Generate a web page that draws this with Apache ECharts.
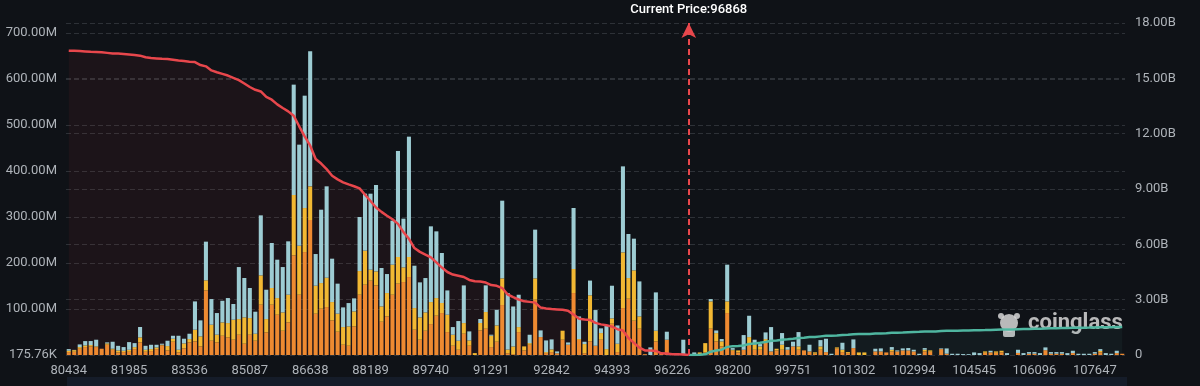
<!DOCTYPE html>
<html><head><meta charset="utf-8">
<script src="https://cdn.jsdelivr.net/npm/echarts@6/dist/echarts.min.js"></script>
<style>html,body{margin:0;padding:0;background:#0f1217;}#c{width:1200px;height:386px;}</style>
</head><body><div id="c"></div>
<script>
// price levels (x categories)
const priceLevels = [
80434,80575,80716,80857,80998,81139,81280,81421,81562,81703,
81844,81985,82126,82267,82408,82549,82690,82831,82972,83113,
83254,83395,83536,83677,83818,83959,84100,84241,84382,84523,
84664,84805,84946,85087,85228,85369,85510,85651,85792,85933,
86074,86215,86356,86497,86638,86779,86920,87061,87202,87343,
87484,87625,87766,87907,88048,88189,88330,88471,88612,88753,
88894,89035,89176,89317,89458,89599,89740,89881,90022,90163,
90304,90445,90586,90727,90868,91009,91150,91291,91432,91573,
91714,91855,91996,92137,92278,92419,92560,92701,92842,92983,
93124,93265,93406,93547,93688,93829,93970,94111,94252,94393,
94560,94726,94893,95060,95226,95393,95560,95726,95893,96060,
96226,96440,96654,96868,97035,97201,97368,97534,97701,97867,
98034,98200,98341,98482,98623,98764,98905,99046,99187,99328,
99469,99610,99751,99892,100033,100174,100315,100456,100597,100738,
100879,101020,101161,101302,101456,101610,101763,101917,102071,102225,
102379,102532,102686,102840,102994,103135,103276,103417,103558,103699,
103840,103981,104122,104263,104404,104545,104686,104827,104968,105109,
105250,105391,105532,105673,105814,105955,106096,106237,106378,106519,
106660,106801,106942,107083,107224,107365,107506,107647,107788,107929,
108070,108211,108352];
const xTickLabels = ['80434','81985','83536','85087','86638','88189','89740','91291','92842','94393','96226','98200','99751','101302','102994','104545','106096','107647'];
const currentPrice = 96868;

// liquidation leverage bars, in millions USD
const levelOrange = [
6.5,7.2,13.8,17.4,18.9,17.4,13.8,22.5,11.6,5.8,
6.5,7.2,13,27.6,7.2,8.7,13,21,10.2,29,
5.8,14.5,27.6,29.7,18.9,140.7,31.2,27.6,42,38.4,
33.4,44.2,24.7,44.2,31.2,109.5,49.3,109.5,87.7,52.9,
71.1,216.8,131.2,224,293.6,89.9,100.8,104.4,75.4,50.8,
22.5,20.3,62.4,131.2,153,161.7,151.5,72.5,84.1,131.2,
155.2,158.8,169.7,55.1,33.4,52.9,67.4,85.6,91.4,50,
20.3,11.6,46.4,20.3,0,53.7,57.3,17.4,29,108.8,
4,2,50,10.2,22.5,120.4,39.2,4.3,6.5,4,
33.4,22.5,134.9,33,4,30,20.3,33.4,0,68.2,
6.5,102.2,122.5,74.7,57.3,2,0,29.7,3,33.4,
0,0,0,0,0,0,6,57.3,29.7,18.9,
91.4,9.4,5.8,11.6,26.1,11.6,11.6,29.7,8,10,
11.6,11.6,18.9,11.6,10.2,8,3,11.6,6.5,0,
14,6.5,4.3,15.2,0,0,0,8,8,5.8,
8,8,10.2,10.2,8,0,8,7.2,0,13,
3,0,0,0,0,0,0,5,6,5,
6,0,0,4.6,0,3,3,0,10.7,3,
3,3,0,4.4,0,0,0,3,6,0,
0,4.4,2.9];
const levelYellow = [
2.9,3.6,3.6,3.6,2.9,1.5,0,2.9,2.2,4.3,
2.9,4.3,4.3,10.9,4.3,4.3,3.6,1.5,9.4,6.5,
5.8,10.9,7.2,25.4,21.8,21.8,34.8,16.7,29,31.2,
43.5,34.1,57.3,36.3,15.2,63.8,29,36.3,36.3,39.9,
60.2,131.2,106.6,95.7,73.2,60.9,55.8,63.8,39.9,39.2,
38.4,42,32.6,51.5,74,23.9,30.5,33.4,50.8,65.3,
58,31.9,43.5,47.1,48.6,39.9,47.9,38.4,21.8,37.7,
23.9,19.6,23.2,11.6,4.3,16,36.3,24.7,35.5,58,
8,16.7,10.9,8.7,3.6,46.4,0,2.2,5.8,0,
19.6,0,52.2,2,20,100,0,14.5,13,11.6,
18.1,121.1,45,109.5,26.8,0,0,23.2,0,0,
0,0,0,0,0,5.8,20,59.5,18.1,10.9,
25.4,2.2,4.3,0,13,10.9,7.2,5.1,0,3.8,
10.9,0,0,7.2,0,0,3,7.2,0,0,
2.7,5.1,2.2,0,5.8,5.8,0,0,0,0,
3.6,0,0,0,0,0,3.6,3,0,0,
0,0,0,0,0,0,0,3,0,3,
3.4,0,0,0,0,0,0,0,0,0,
0,0,0,0,0,0,0,0,3,0,
0,0,0];
const levelBlue = [
3.6,0.5,5.8,9.4,8.7,14.5,0,2.2,15.2,10,
8,16.7,8.7,22.5,8.7,9.4,5.8,2.2,11.6,6.5,
30.4,10.2,11.6,61.6,34.8,84.1,55.8,47.1,47.1,54.4,
34.1,113.1,85.6,65.3,47.9,130.5,63.8,97.9,83.4,98.6,
116,240,219.7,244.3,293.6,68.9,159.5,198.7,94.3,65.3,
42.8,50.8,28.3,117.5,124,165.3,187.8,83.4,41.3,95.7,
230.6,105.9,261.7,92.1,76.1,74.7,164.6,145,108.8,52.9,
16.7,42.8,81.9,19.6,0,8.7,58,2.2,34.1,168.9,
123,87,70.3,0,18.1,105.9,14.5,25.4,21.8,4,
0,5,132.7,49,5,32,77.6,10.2,51.5,71,
39.9,187,95.7,68.9,76.1,0,16.7,83.4,0,17.4,
0,0,33.4,0,5.8,0,0,5,5.8,5.1,
79.8,3.6,0,31.9,46.4,10.9,5.1,14.5,52.9,0,
25.4,5.8,10.2,31.2,0,14.5,0,13.8,29,2.9,
0,15.2,0,18.9,0,0,0,5.8,6.5,0,
5.8,2.2,4.3,5.1,3.6,2.9,3.6,0,0,1.5,
11.5,2.9,2.9,2.2,2,5.8,4.3,0,3.4,0,
0,4.3,0,7,4.3,3.5,3.5,4.3,6,3.5,
3.5,3.5,4.3,5,2.9,2.9,2.9,3.5,4,4.3,
2.9,5,0];

// cumulative long liquidation (left of current price), billions USD, index 0..113
const cumLong = [
16.50,16.49,16.48,16.46,16.44,16.43,16.41,16.38,16.35,16.34,
16.32,16.29,16.26,16.23,16.14,16.10,16.08,16.06,16.05,16.01,
15.97,15.94,15.90,15.88,15.72,15.65,15.43,15.33,15.24,15.15,
15.02,14.90,14.72,14.53,14.38,14.29,13.99,13.84,13.59,13.39,
13.21,12.97,12.40,11.85,11.35,10.63,10.38,10.08,9.72,9.52,
9.36,9.25,9.15,9.03,8.69,8.35,8.00,7.76,7.55,7.36,
7.11,6.66,6.30,5.80,5.59,5.44,5.29,5.02,4.74,4.50,
4.36,4.30,4.23,4.07,4.00,3.99,3.93,3.79,3.75,3.63,
3.28,3.14,3.01,2.91,2.88,2.84,2.57,2.52,2.49,2.47,
2.45,2.40,2.19,1.97,1.93,1.90,1.74,1.66,1.61,1.54,
1.40,1.33,0.92,0.66,0.40,0.25,0.24,0.22,0.09,0.08,
0.04,0.035,0.03,0];
// cumulative short liquidation (right of current price), billions USD, index 113..192
const cumShort = [
0,0.006,0.012,0.04,0.18,0.24,0.29,
0.44,0.48,0.49,0.52,0.60,0.63,0.66,0.71,0.77,0.79,
0.83,0.85,0.88,0.92,0.94,0.97,0.98,1.01,1.04,1.045,
1.06,1.09,1.10,1.13,1.14,1.145,1.145,1.16,1.17,1.18,
1.20,1.21,1.22,1.24,1.25,1.255,1.27,1.28,1.28,1.295,
1.31,1.315,1.32,1.325,1.33,1.34,1.345,1.35,1.36,1.37,
1.38,1.385,1.385,1.40,1.405,1.41,1.42,1.425,1.44,1.45,
1.455,1.46,1.465,1.475,1.48,1.483,1.486,1.49,1.50,1.505,
1.508,1.515,1.52];

const leftAxisMin = 0.17576, leftAxisMax = 722;   // millions
const rightAxisMax = 18, rightAxisInterval = 3;    // billions

const cats = priceLevels.map(String);
const redData = cumLong.concat(new Array(cats.length - cumLong.length).fill(null));
const greenData = new Array(cats.length - cumShort.length).fill(null).concat(cumShort);

const RED = '#e8474c', GREEN = '#4fb6a0';
const labelColor = '#aeb3b9';
const font = 'Roboto, "Noto Sans", sans-serif';

const chart = echarts.init(document.getElementById('c'), null, {renderer: 'canvas'});
chart.setOption({
  animation: false,
  backgroundColor: '#0f1217',
  grid: {left: 66, right: 75, top: 23, bottom: 31},
  xAxis: {
    type: 'category', data: cats, boundaryGap: true,
    axisLine: {show: false}, axisTick: {show: false},
    axisLabel: {color: labelColor, fontSize: 13, fontFamily: font, margin: 9,
      interval: (i, v) => xTickLabels.includes(v)},
    splitLine: {show: false}
  },
  yAxis: [{
    type: 'value', min: leftAxisMin, max: leftAxisMax, splitNumber: 7,
    axisLine: {show: false}, axisTick: {show: false},
    axisLabel: {color: labelColor, fontSize: 13, fontFamily: font, margin: 9, showMaxLabel: false,
      formatter: v => v < 1 ? (v * 1000).toFixed(2) + 'K' : v.toFixed(2) + 'M'},
    splitLine: {lineStyle: {color: '#2d3137', type: [5, 3], width: 1}}
  }, {
    type: 'value', min: 0, max: rightAxisMax, interval: rightAxisInterval, position: 'right',
    axisLine: {show: false}, axisTick: {show: false},
    axisLabel: {color: labelColor, fontSize: 13, fontFamily: font, margin: 10,
      formatter: v => v === 0 ? '0' : v.toFixed(2) + 'B'},
    splitLine: {lineStyle: {color: '#2d3137', type: [5, 3], width: 1}}
  }],
  graphic: [
    {type: 'rect', left: 67, top: 377, shape: {width: 1060, height: 12}, style: {fill: '#151c29'}, z: 0},
    {type: 'group', left: 998, top: 312, z: 100, children: [
      {type: 'circle', shape: {cx: 12, cy: 13, r: 9}, style: {fill: 'rgba(215,215,215,0.85)'}},
      {type: 'circle', shape: {cx: 4, cy: 6, r: 3}, style: {fill: 'rgba(215,215,215,0.85)'}},
      {type: 'circle', shape: {cx: 20, cy: 6, r: 3}, style: {fill: 'rgba(215,215,215,0.85)'}},
      {type: 'rect', shape: {x: 6, y: 18, width: 12, height: 9, r: 2}, style: {fill: 'rgba(215,215,215,0.85)'}},
      {type: 'text', x: 31, y: 2, style: {text: 'coinglass', fill: 'rgba(215,215,215,0.85)', font: 'bold 22px ' + font}}
    ]}
  ],
  series: [
    {name: 'longArea', type: 'line', yAxisIndex: 1, data: redData, symbol: 'none', z: 1,
      lineStyle: {width: 0}, areaStyle: {color: 'rgba(232,71,76,0.085)'}, silent: true},
    {name: 'shortArea', type: 'line', yAxisIndex: 1, data: greenData, symbol: 'none', z: 1,
      lineStyle: {width: 0}, areaStyle: {color: 'rgba(79,182,160,0.09)'}, silent: true},
    {name: 'L1', type: 'bar', stack: 'liq', data: levelOrange, barCategoryGap: '26%', z: 2, itemStyle: {color: '#ee8a31'}},
    {name: 'L2', type: 'bar', stack: 'liq', data: levelYellow, z: 2, itemStyle: {color: '#f2b833'}},
    {name: 'L3', type: 'bar', stack: 'liq', data: levelBlue, z: 2, itemStyle: {color: '#9dccd3'}},
    {name: 'Cumulative Long', type: 'line', yAxisIndex: 1, data: redData, symbol: 'none', z: 3,
      lineStyle: {color: RED, width: 2.5},
      markLine: {silent: true, symbol: ['none', 'arrow'], symbolSize: [11, 15],
        lineStyle: {color: RED, type: [6, 4], width: 2},
        label: {show: true, position: 'end', distance: 7, formatter: 'Current Price:' + currentPrice,
          color: '#ffffff', fontSize: 13, fontWeight: 500, fontFamily: font},
        data: [{xAxis: String(currentPrice)}]}},
    {name: 'Cumulative Short', type: 'line', yAxisIndex: 1, data: greenData, symbol: 'none', z: 3,
      lineStyle: {color: GREEN, width: 2.5}}
  ]
});
</script></body></html>
